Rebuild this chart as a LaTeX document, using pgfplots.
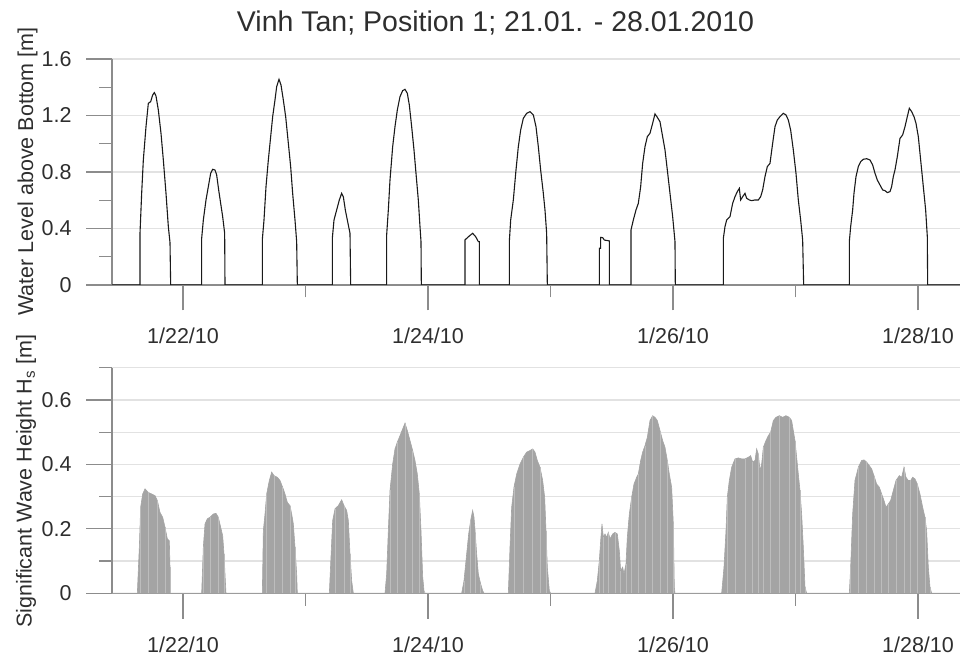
\documentclass[border=0pt]{standalone}
\usepackage{fontspec}
\setmainfont{Liberation Sans}
\usepackage{pgfplots}
\pgfplotsset{compat=1.18}
\usepackage{pgfplotstable}

\definecolor{axisgray}{HTML}{8C8C8C}
\definecolor{gridgray}{HTML}{E2E2E2}
\definecolor{hsgray}{HTML}{A4A4A4}
\definecolor{hslight}{HTML}{BDBDBD}
\definecolor{txt}{HTML}{2E2E2E}
\definecolor{wl}{HTML}{1A1A1A}

% time in days since 21.01.2010 00:00, water level above bottom in m
\pgfplotstableread{
t h
0.4204 0
0.649 0
0.649 0.366
0.6626 0.649
0.6762 0.885
0.698 1.121
0.717 1.286
0.736 1.298
0.7524 1.345
0.766 1.362
0.7796 1.338
0.7986 1.239
0.8204 1.074
0.8395 0.885
0.8612 0.649
0.8803 0.413
0.8939 0.30
0.8993 0
1.1524 0
1.1524 0.330
1.166 0.460
1.1878 0.602
1.2068 0.696
1.2259 0.791
1.2422 0.819
1.2612 0.814
1.2748 0.779
1.2912 0.673
1.3075 0.578
1.3238 0.484
1.3401 0.366
1.3429 0
1.6476 0
1.6476 0.32
1.6612 0.460
1.6776 0.696
1.6966 0.885
1.7157 1.050
1.732 1.192
1.751 1.310
1.7646 1.404
1.7837 1.456
1.8 1.416
1.819 1.310
1.8381 1.192
1.8599 1.003
1.8789 0.838
1.8952 0.649
1.9143 0.460
1.9279 0.307
1.9334 0
2.219 0
2.219 0.330
2.2327 0.460
2.2544 0.531
2.2762 0.602
2.2952 0.649
2.3088 0.625
2.3252 0.531
2.3415 0.460
2.3633 0.366
2.3687 0
2.6626 0
2.6626 0.354
2.6762 0.531
2.6898 0.743
2.7116 0.979
2.7306 1.121
2.7497 1.239
2.7714 1.333
2.7932 1.376
2.8122 1.385
2.8313 1.357
2.8476 1.274
2.8667 1.121
2.8857 0.956
2.902 0.791
2.921 0.602
2.9347 0.413
2.9429 0.307
2.9456 0
3.302 0
3.302 0.319
3.3157 0.330
3.3374 0.347
3.3646 0.366
3.3891 0.342
3.4109 0.307
3.419 0.307
3.419 0
3.664 0
3.664 0.307
3.675 0.460
3.6966 0.602
3.7184 0.814
3.7374 0.979
3.7565 1.097
3.7782 1.180
3.8054 1.215
3.8327 1.227
3.8599 1.204
3.8816 1.121
3.9007 0.979
3.9197 0.814
3.9415 0.649
3.9551 0.531
3.9687 0.366
3.9742 0
4.3986 0
4.3986 0.26
4.4095 0.26
4.4095 0.337
4.4258 0.335
4.44 0.318
4.4803 0.312
4.4803 0
4.6571 0
4.6571 0.389
4.6762 0.460
4.698 0.531
4.717 0.578
4.7361 0.696
4.7524 0.861
4.7714 0.979
4.7905 1.050
4.8122 1.074
4.834 1.145
4.8531 1.211
4.8721 1.187
4.8939 1.156
4.9156 1.050
4.9347 0.956
4.9537 0.814
4.9755 0.649
4.9973 0.484
5.0163 0.307
5.019 0
5.411 0
5.411 0.330
5.4245 0.413
5.438 0.460
5.4653 0.484
5.4871 0.578
5.5061 0.625
5.5252 0.661
5.5415 0.684
5.5524 0.602
5.5687 0.625
5.5878 0.649
5.6014 0.614
5.6231 0.602
5.6422 0.597
5.6694 0.602
5.6966 0.602
5.7157 0.625
5.732 0.673
5.751 0.767
5.7701 0.838
5.7918 0.861
5.8136 1.003
5.8327 1.121
5.8517 1.168
5.8735 1.192
5.9007 1.215
5.9224 1.204
5.9415 1.168
5.9605 1.097
5.9823 0.956
6.0041 0.791
6.0231 0.602
6.0422 0.460
6.0585 0.319
6.0667 0
6.4395 0
6.4395 0.307
6.4504 0.413
6.4667 0.531
6.4776 0.649
6.4939 0.767
6.5129 0.838
6.532 0.873
6.5537 0.890
6.581 0.894
6.6082 0.885
6.6299 0.850
6.649 0.791
6.668 0.743
6.6898 0.708
6.7116 0.673
6.7306 0.668
6.7497 0.654
6.7714 0.661
6.785 0.696
6.7986 0.767
6.8122 0.814
6.8313 0.909
6.8531 1.038
6.8748 1.062
6.8939 1.121
6.9129 1.192
6.9293 1.251
6.9483 1.227
6.9673 1.192
6.9837 1.145
7.0027 1.050
7.0218 0.885
7.0435 0.696
7.0626 0.531
7.0762 0.342
7.0790 0
7.3429 0
}\waterlevel

% time in days since 21.01.2010 00:00, significant wave height in m
\pgfplotstableread{
t hs
0.4204 0
0.6272 0
0.6435 0.143
0.6544 0.267
0.6707 0.308
0.6898 0.324
0.717 0.313
0.7442 0.308
0.7714 0.303
0.7905 0.288
0.8122 0.251
0.834 0.236
0.8531 0.205
0.8721 0.169
0.8884 0.163
0.8939 0.081
0.8993 0
1.1524 0
1.166 0.143
1.1796 0.215
1.1986 0.231
1.2204 0.236
1.2476 0.246
1.2694 0.248
1.2884 0.236
1.3075 0.205
1.3238 0.179
1.3347 0.122
1.3456 0.039
1.351 0
1.6476 0
1.6558 0.194
1.6694 0.246
1.683 0.308
1.7048 0.350
1.7238 0.376
1.7429 0.365
1.7701 0.360
1.7918 0.350
1.8136 0.329
1.8327 0.308
1.8517 0.282
1.8735 0.272
1.8871 0.246
1.9007 0.215
1.9143 0.143
1.9279 0.060
1.9333 0
2.1946 0
2.2054 0.091
2.2218 0.226
2.2408 0.262
2.268 0.272
2.2952 0.290
2.3143 0.272
2.3361 0.257
2.3497 0.226
2.3633 0.122
2.3769 0.039
2.3905 0
2.649 0
2.6626 0.060
2.6762 0.194
2.6898 0.319
2.7116 0.401
2.7306 0.448
2.7497 0.469
2.7714 0.489
2.7932 0.510
2.8122 0.528
2.8313 0.505
2.8531 0.474
2.8748 0.443
2.8939 0.412
2.9129 0.370
2.9292 0.308
2.9429 0.194
2.9565 0.052
2.9673 0.008
2.9755 0
3.2749 0
3.2939 0.039
3.3157 0.122
3.332 0.184
3.3483 0.226
3.3646 0.257
3.3755 0.236
3.3864 0.184
3.3973 0.122
3.4109 0.060
3.43 0.029
3.4463 0.008
3.4571 0
3.6558 0
3.6694 0.143
3.683 0.267
3.702 0.329
3.7238 0.370
3.751 0.401
3.7782 0.422
3.8055 0.438
3.8327 0.443
3.8544 0.448
3.8735 0.438
3.8925 0.412
3.9143 0.391
3.9361 0.350
3.9524 0.298
3.9633 0.194
3.9742 0.081
3.9905 0.008
4.0014 0
4.3633 0
4.3823 0.039
4.3986 0.101
4.4095 0.163
4.4204 0.215
4.4313 0.174
4.4449 0.184
4.4585 0.174
4.4721 0.189
4.4857 0.169
4.5075 0.184
4.5265 0.189
4.5456 0.184
4.5619 0.132
4.5728 0.070
4.5891 0.081
4.6 0.060
4.6163 0.091
4.6272 0.174
4.6435 0.246
4.6626 0.298
4.6816 0.339
4.7034 0.360
4.717 0.370
4.7361 0.412
4.7524 0.438
4.7714 0.458
4.7905 0.484
4.8122 0.536
4.834 0.551
4.8531 0.546
4.8721 0.536
4.8939 0.505
4.9156 0.474
4.9347 0.453
4.9537 0.412
4.97 0.370
4.9891 0.329
5.0027 0.215
5.0109 0.019
5.0163 0
5.3973 0
5.4163 0.081
5.4327 0.194
5.4435 0.298
5.4598 0.350
5.4789 0.391
5.5061 0.417
5.5333 0.420
5.5605 0.417
5.5878 0.417
5.615 0.422
5.634 0.427
5.6503 0.407
5.6694 0.412
5.683 0.448
5.6966 0.432
5.7102 0.381
5.7238 0.401
5.7374 0.453
5.7592 0.474
5.7782 0.489
5.7973 0.500
5.819 0.536
5.8408 0.546
5.868 0.551
5.8953 0.546
5.9224 0.551
5.9497 0.546
5.9687 0.536
5.9823 0.505
5.9959 0.474
6.0095 0.422
6.0231 0.370
6.0367 0.319
6.0503 0.246
6.0639 0.143
6.0776 0.019
6.0912 0
6.4395 0
6.4504 0.081
6.4667 0.246
6.4857 0.350
6.5129 0.391
6.5401 0.412
6.5592 0.414
6.581 0.407
6.6027 0.396
6.6218 0.386
6.6408 0.365
6.6626 0.339
6.6844 0.329
6.7034 0.308
6.7224 0.288
6.7388 0.267
6.7578 0.277
6.7769 0.288
6.7986 0.319
6.8204 0.350
6.8476 0.365
6.8667 0.360
6.8857 0.391
6.902 0.360
6.9211 0.350
6.9401 0.350
6.9565 0.360
6.9755 0.355
6.9946 0.339
7.0163 0.308
7.0381 0.267
7.0571 0.236
7.0707 0.194
7.0844 0.081
7.098 0.019
7.1116 0
7.3429 0
}\waveheight

\pgfplotsset{
  timeseries/.style={
    scale only axis,
    width=424pt,
    xmin=0.4204, xmax=7.3429,
    axis x line=bottom, axis y line=left,
    axis line style={axisgray, line width=0.6pt, -},
    tick style={axisgray, line width=0.6pt},
    tick align=outside,
    major tick length=12.75pt,
    minor tick length=6.25pt,
    xtick={1,3,5,7},
    minor xtick={2,4,6},
    xticklabels={1/22/10,1/24/10,1/26/10,1/28/10},
    ymajorgrids,
    major grid style={gridgray, line width=0.6pt},
    minor grid style={gridgray, line width=0.6pt},
    tick label style={font=\fontsize{10.75}{12}\selectfont, text=txt},
    /pgf/number format/assume math mode=true,
    /pgf/number format/fixed,
    % labels sit past the outward ticks
    yticklabel style={anchor=east, inner sep=0pt, xshift=-7.25pt},
    xticklabel style={anchor=north, inner sep=0pt, yshift=-8.75pt},
  }
}

\begin{document}
\begin{tikzpicture}
\useasboundingbox (0,0) rectangle (480pt,328pt);

\begin{axis}[timeseries,
  at={(56pt,185.5pt)}, anchor=south west,
  height=113pt,
  ymin=0, ymax=1.6,
  ytick={0,0.4,0.8,1.2,1.6},
  minor ytick={0.2,0.6,1.0,1.4},
  yticklabels={0,0.4,0.8,1.2,1.6},
]
\addplot[wl, line width=0.55pt, no markers] table[x=t, y=h] {\waterlevel};
\end{axis}

\begin{axis}[timeseries,
  at={(56pt,31.35pt)}, anchor=south west,
  height=112.8pt,
  ymin=0, ymax=0.7,
  ytick={0,0.2,0.4,0.6},
  minor ytick={0.1,0.3,0.5,0.7},
  yticklabels={0,0.2,0.4,0.6},
  yminorgrids,
]
\addplot[fill=hsgray, draw=hsgray, line width=0.3pt, no markers] table[x=t, y=hs] {\waveheight} \closedcycle;
\addplot[ycomb, draw=hslight, line width=0.35pt, no markers, each nth point=3] table[x=t, y=hs] {\waveheight};
\end{axis}

\node[text=txt, font=\fontsize{14.25}{16}\selectfont, anchor=base, inner sep=0pt]
  at (247.75pt,312.15pt) {Vinh Tan; Position 1; 21.01. - 28.01.2010};
\node[text=txt, font=\fontsize{10.75}{12}\selectfont, rotate=90, anchor=base, inner sep=0pt]
  at (16.5pt,242.25pt) {Water Level above Bottom [m]};
\node[text=txt, font=\fontsize{10.75}{12}\selectfont, rotate=90, anchor=base, inner sep=0pt]
  at (15.85pt,87.5pt) {Significant Wave Height H\textsubscript{s} [m]};
\end{tikzpicture}
\end{document}
